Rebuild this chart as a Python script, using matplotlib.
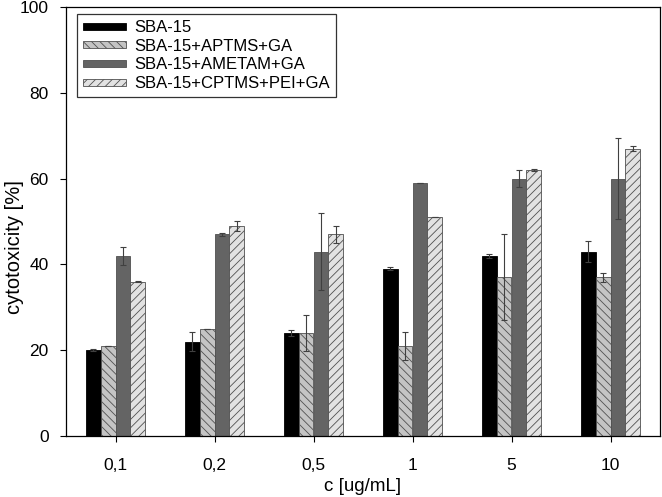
import numpy as np
import matplotlib
matplotlib.use('Agg')
import matplotlib.pyplot as plt

plt.rcParams['font.family'] = ['Liberation Sans', 'DejaVu Sans']
plt.rcParams['hatch.linewidth'] = 0.6

# dane
categories = ['0,1', '0,2', '0,5', '1', '5', '10']
series = ['SBA-15', 'SBA-15+APTMS+GA', 'SBA-15+AMETAM+GA', 'SBA-15+CPTMS+PEI+GA']

sba = [20, 22, 24, 39, 42, 43]
sba_err = [0.2, 2.3, 0.6, 0.3, 0.5, 2.5]
aptms = [21, 25, 24, 21, 37, 37]
aptms_err = [0, 0, 4.3, 3.2, 10, 1]
ametam = [42, 47, 43, 59, 60, 60]
ametam_err = [2.1, 0.3, 9, 0, 2, 9.4]
pei = [36, 49, 47, 51, 62, 67]
pei_err = [0.2, 1.2, 2, 0, 0.3, 0.5]

values = [sba, aptms, ametam, pei]
errors = [sba_err, aptms_err, ametam_err, pei_err]
fills = ['black', '#c4c4c4', '#646464', '#e2e2e2']
hatches = [None, '\\\\\\\\', None, '////']
edges = ['black', '#505050', '#505050', '#505050']

fig = plt.figure(figsize=(6.62, 4.97), dpi=100)
ax = fig.add_axes([66 / 662, 1 - 436 / 497, 594 / 662, 429 / 497])

x = np.arange(len(categories))
w = 0.15
for i in range(4):
    pos = x + (i - 1.5) * w
    ax.bar(pos, values[i], w, color=fills[i], edgecolor=edges[i],
           hatch=hatches[i], linewidth=0.6, label=series[i], zorder=2)
    ax.errorbar(pos, values[i], yerr=errors[i], fmt='none', ecolor='#404040',
                elinewidth=0.8, capsize=2.5, capthick=0.8, zorder=3)

ax.set_xlim(-0.5, len(categories) - 0.5)
ax.set_ylim(0, 100)
ax.set_xticks(x)
ax.set_xticklabels(categories)
ax.set_yticks([0, 20, 40, 60, 80, 100])
ax.tick_params(direction='out', length=4.5, width=0.8, labelsize=12.5, pad=8)
ax.tick_params(axis='x', pad=11)
for s in ax.spines.values():
    s.set_linewidth(0.9)

ax.set_xlabel('c [ug/mL]', fontsize=13.5, labelpad=4)
ax.set_ylabel('cytotoxicity [%]', fontsize=14.5)
ax.yaxis.set_label_coords(-0.07, 0.44)

leg = ax.legend(loc='upper left', bbox_to_anchor=(0.018, 0.983), fontsize=12,
                frameon=True, fancybox=False, edgecolor='black', borderpad=0.35,
                labelspacing=0.22, handlelength=2.6, handleheight=0.25,
                handletextpad=0.5, borderaxespad=0)
leg.get_frame().set_linewidth(0.9)

fig.savefig('out.png', dpi=100)
